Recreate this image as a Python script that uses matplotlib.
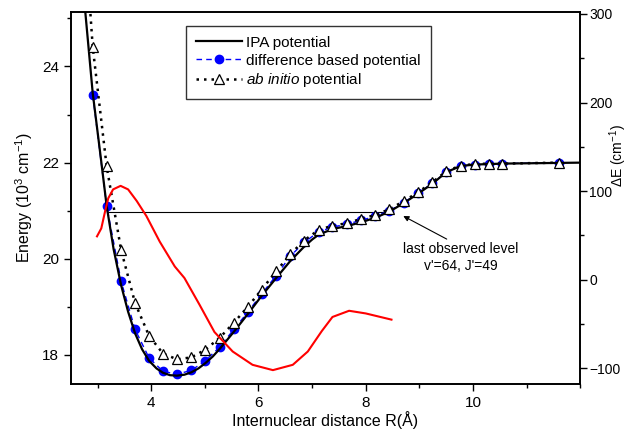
import matplotlib
matplotlib.use('Agg')
import matplotlib.pyplot as plt
from matplotlib.ticker import MultipleLocator

plt.rcParams['font.family'] = ['Liberation Sans', 'DejaVu Sans']
plt.rcParams['mathtext.fontset'] = 'custom'
plt.rcParams['mathtext.rm'] = 'Liberation Sans'
plt.rcParams['mathtext.it'] = 'Liberation Sans:italic'

# IPA potential (solid curve), R in Angstrom, E in 10^3 cm-1
r_ipa = [2.75, 2.91, 3.05, 3.17, 3.30, 3.44, 3.57, 3.70, 3.83, 3.96, 4.10, 4.22,
         4.35, 4.48, 4.62, 4.75, 4.88, 5.01, 5.15, 5.28, 5.54, 5.80, 6.06, 6.33,
         6.59, 6.85, 7.00, 7.12, 7.38, 7.65, 7.91, 8.17, 8.44, 8.71, 8.97, 9.24,
         9.50, 9.77, 10.03, 10.55, 12.0]
e_ipa = [25.40, 23.45, 22.20, 21.10, 20.20, 19.45, 18.90, 18.45, 18.12, 17.88, 17.72, 17.63,
         17.58, 17.57, 17.59, 17.64, 17.72, 17.83, 17.97, 18.13, 18.48, 18.85, 19.23, 19.60,
         19.95, 20.25, 20.40, 20.50, 20.62, 20.68, 20.76, 20.85, 20.98, 21.16, 21.35, 21.56,
         21.80, 21.93, 21.96, 21.98, 22.00]

# grid points shared by the difference based and ab initio potentials
r_pts = [2.91, 3.17, 3.44, 3.70, 3.96, 4.22, 4.48, 4.75, 5.01, 5.28, 5.54, 5.80,
         6.06, 6.33, 6.59, 6.85, 7.12, 7.38, 7.65, 7.91, 8.17, 8.44, 8.71, 8.97,
         9.24, 9.50, 9.77, 10.03, 10.29, 10.55, 11.61]
e_diff = [23.41, 21.10, 19.53, 18.53, 17.94, 17.66, 17.60, 17.68, 17.88, 18.17, 18.53, 18.89,
          19.27, 19.65, 20.05, 20.34, 20.56, 20.66, 20.72, 20.80, 20.88, 21.00, 21.17, 21.36,
          21.57, 21.80, 21.93, 21.96, 21.97, 21.98, 22.00]

r_ai = [2.65] + r_pts
e_ai = [28.60, 24.41, 21.92, 20.18, 19.08, 18.40, 18.03, 17.91, 17.95, 18.11, 18.36, 18.67, 19.00,
        19.36, 19.74, 20.09, 20.38, 20.60, 20.69, 20.74, 20.83, 20.91, 21.03, 21.20, 21.38,
        21.59, 21.82, 21.94, 21.97, 21.98, 21.98, 22.00]

# difference ab initio - IPA (cm-1), right axis
r_de = [2.99, 3.07, 3.14, 3.20, 3.29, 3.43, 3.57, 3.73, 3.91, 4.16, 4.44, 4.62,
        4.90, 5.18, 5.52, 5.89, 6.27, 6.64, 6.92, 7.18, 7.38, 7.69, 8.00, 8.48]
de = [49, 58, 77, 92, 102, 106, 102, 89, 72, 43, 15, 2,
      -28, -59, -81, -96, -102, -96, -81, -58, -42, -35, -38, -45]

# last observed level
level_e = 20.97
level_r = [3.17, 8.44]

fig, ax = plt.subplots(figsize=(6.28, 4.32), dpi=100)
fig.subplots_adjust(left=0.1126, right=0.924, bottom=0.1104, top=0.973)

ax.plot(r_pts, e_diff, color='blue', ls=(0, (4, 3)), lw=1.0, marker='o',
        ms=6, mec='blue', mfc='blue', zorder=2, label='difference based potential')
ax.plot(r_ipa, e_ipa, color='black', lw=1.6, zorder=3, label='IPA potential')
ax.plot(r_ai, e_ai, color='black', ls=(0, (1, 2)), lw=1.8, marker='^',
        ms=7, mec='black', mfc='white', mew=0.9, zorder=4,
        label=r'$\it{ab\ initio}$ potential')
ax.plot(level_r, [level_e, level_e], color='black', lw=0.8, zorder=1)

ax.text(9.77, 20.03, "last observed level\nv'=64, J'=49", ha='center', va='center',
        fontsize=10, linespacing=1.25)
ax.annotate('', xy=(8.70, 20.89), xytext=(9.51, 20.41),
            arrowprops=dict(arrowstyle='-|>', color='black', lw=0.8,
                            mutation_scale=8, shrinkA=0, shrinkB=0))

ax.set_xlim(2.5, 12.0)
ax.set_ylim(17.39, 25.14)
ax.set_xticks([4, 6, 8, 10])
ax.xaxis.set_minor_locator(MultipleLocator(1))
ax.yaxis.set_major_locator(MultipleLocator(2))
ax.yaxis.set_minor_locator(MultipleLocator(1))
ax.set_xlabel('Internuclear distance R(Å)', fontsize=11.5, labelpad=1)
ax.set_ylabel('Energy (10$^3$ cm$^{-1}$)', fontsize=11.5, labelpad=5)
ax.tick_params(which='both', direction='out', top=False, labelsize=11)
ax.tick_params(which='major', length=5, width=1)
ax.tick_params(which='minor', length=3, width=1)

handles, labels = ax.get_legend_handles_labels()
order = [1, 0, 2]
leg = ax.legend([handles[i] for i in order], [labels[i] for i in order],
                loc='upper left', bbox_to_anchor=(0.226, 0.962), fontsize=11,
                frameon=True, fancybox=False, shadow=False, borderpad=0.65,
                handlelength=3.0, labelspacing=0.25, handletextpad=0.3,
                borderaxespad=0)
leg.get_frame().set_edgecolor('black')
leg.get_frame().set_linewidth(1.0)

ax2 = ax.twinx()
ax2.plot(r_de, de, color='red', lw=1.5)
ax2.set_ylim(-118, 302.6)
ax2.yaxis.set_major_locator(MultipleLocator(100))
ax2.yaxis.set_minor_locator(MultipleLocator(50))
ax2.set_ylabel('ΔE (cm$^{-1}$)', fontsize=10)
ax2.yaxis.set_label_coords(1.054, 0.615)
ax2.tick_params(which='both', direction='out', labelsize=10, pad=1.5)
ax2.tick_params(which='major', length=5, width=1)
ax2.tick_params(which='minor', length=3, width=1)

for a in (ax, ax2):
    for s in a.spines.values():
        s.set_linewidth(1.2)

fig.savefig('out.png', dpi=100)
